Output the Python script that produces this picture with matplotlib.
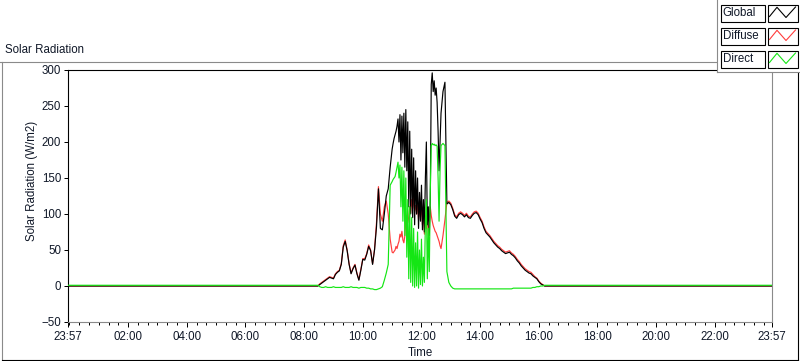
import numpy as np
import matplotlib
matplotlib.use("Agg")
import matplotlib.pyplot as plt
from matplotlib.patches import Rectangle
from matplotlib.lines import Line2D

plt.rcParams['font.family'] = ['Liberation Sans', 'DejaVu Sans']

# ---------------- data ----------------
# time axis in minutes after midnight (chart runs 23:57 -> 23:57)
axis_start_min = -3
axis_end_min = 1437
# daytime record: 4-min samples, 2-min samples in the cloudy midday stretch
times_morning = np.arange(508, 657, 4)     # 08:28 - 10:56
times_midday = np.arange(660, 761, 2)      # 11:00 - 12:40
times_afternoon = np.arange(764, 1001, 4)  # 12:44 - 16:40

night_global = 0
night_diffuse = 0
night_direct = 1

global_morning = [
    0, 2, 4, 6, 8, 10, 12, 11, 10, 16,
    19, 21, 30, 54, 62, 49, 30, 17, 24, 29,
    17, 8, 22, 37, 36, 44, 55, 49, 30, 50,
    82, 135, 80, 78, 100, 125, 135, 165,
]
global_midday = [
    190, 198, 205, 210, 215, 222, 232, 200, 238, 175,
    236, 185, 240, 165, 245, 160, 228, 110, 215, 100,
    190, 95, 178, 85, 160, 100, 150, 80, 130, 90,
    140, 78, 120, 75, 150, 200, 85, 110, 70, 120,
    280, 296, 270, 285, 265, 275, 255, 215, 160, 200,
    240,
]
global_afternoon = [
    270, 283, 114, 116, 113, 106,
    97, 94, 99, 101, 99, 96, 99, 95, 94, 98,
    101, 102, 99, 93, 88, 80, 74, 71, 68, 64,
    60, 57, 54, 52, 49, 47, 45, 46, 47, 44,
    42, 39, 35, 32, 28, 25, 22, 20, 18, 17,
    14, 12, 10, 6, 3, 1.5, 0, 0, 0, 0,
    0, 0, 0, 0,
]

diffuse_morning = [
    0, 3, 5, 7, 9, 11, 13, 12, 11, 17,
    20, 22, 31, 56, 64, 50, 31, 18, 25, 30,
    18, 9, 23, 38, 38, 45, 57, 50, 31, 51,
    88, 138, 100, 90, 110, 118, 100, 65,
]
diffuse_midday = [
    47, 46, 48, 50, 55, 52, 58, 62, 72, 68,
    76, 64, 60, 70, 92, 98, 88, 96, 110, 102,
    120, 108, 125, 105, 112, 100, 118, 92, 112, 96,
    115, 85, 100, 72, 95, 80, 102, 70, 85, 110,
    98, 90, 84, 80, 76, 74, 70, 66, 62, 56,
    52,
]
diffuse_afternoon = [
    70, 92, 116, 118, 115, 108,
    99, 96, 101, 103, 101, 98, 101, 97, 96, 100,
    103, 104, 101, 95, 90, 82, 76, 73, 70, 66,
    62, 59, 56, 54, 51, 49, 47, 48, 49, 46,
    44, 41, 37, 34, 30, 27, 24, 22, 20, 19,
    16, 13, 11, 7, 4, 2, 0, 0, 0, 0,
    0, 0, 0, 0,
]

direct_morning = [
    1, -1, -2, -2, -1, -2, -2, -2, -1, -2,
    -2, -2, -2, -1, -2, -2, -2, -1, -2, -2,
    -2, -3, -2, -2, -2, -3, -3, -4, -4, -5,
    -5, -4, -3, -1, 8, 18, 30, 140,
]
direct_midday = [
    145, 148, 150, 152, 158, 165, 172, 150, 168, 110,
    165, 90, 160, 70, 150, 40, 120, 10, 110, 5,
    95, 0, 80, -2, 60, 0, 75, -3, 50, 2,
    65, 0, 40, 5, 90, 120, 10, 80, 20, 130,
    195, 198, 196, 197, 195, 196, 194, 150, 90, 160,
    195,
]
direct_afternoon = [
    198, 195, 20, 5, 0, -3,
    -4, -4, -4, -4, -4, -4, -4, -4, -4, -4,
    -4, -4, -4, -4, -4, -4, -4, -4, -4, -4,
    -4, -4, -4, -4, -4, -4, -4, -4, -4, -4,
    -3, -3, -3, -3, -3, -3, -3, -3, -3, -3,
    -2, -2, -1, -1, 0, 0, 1, 1, 1, 1,
    1, 1, 1, 1,
]

series_names = ["Global", "Diffuse", "Direct"]
series_colors = ["#000000", "#ff3c3c", "#14e614"]

major_tick_mins = [-3, 120, 240, 360, 480, 600, 720, 840, 960, 1080, 1200, 1320, 1437]
major_tick_labels = ["23:57", "02:00", "04:00", "06:00", "08:00", "10:00", "12:00",
                     "14:00", "16:00", "18:00", "20:00", "22:00", "23:57"]
minor_tick_mins = np.arange(0, 1437, 20)
y_ticks = [-50, 0, 50, 100, 150, 200, 250, 300]

# ---------------- figure ----------------
W, H = 800, 361
fig = plt.figure(figsize=(8, 3.61), dpi=100)
fig.patch.set_facecolor('white')


def fx(px):
    return px / W


def fy(py):
    return 1 - py / H


L, R, T, B = 68, 772, 70, 322
ax = fig.add_axes([fx(L), fy(B), (R - L) / W, (B - T) / H])
ax.set_facecolor('white')

t_all = np.concatenate([[axis_start_min], times_morning, times_midday,
                        times_afternoon, [axis_end_min]])
g_all = np.concatenate([[night_global], global_morning, global_midday,
                        global_afternoon, [night_global]])
d_all = np.concatenate([[night_diffuse], diffuse_morning, diffuse_midday,
                        diffuse_afternoon, [night_diffuse]])
r_all = np.concatenate([[night_direct], direct_morning, direct_midday,
                        direct_afternoon, [night_direct]])

lw = 0.85
ax.plot(t_all, d_all, color=series_colors[1], lw=lw, zorder=2)
ax.plot(t_all, g_all, color=series_colors[0], lw=lw, zorder=3)
ax.plot(t_all, r_all, color=series_colors[2], lw=lw, zorder=4)

ax.set_xlim(axis_start_min, axis_end_min)
ax.set_ylim(-50, 300)
ax.set_xticks(major_tick_mins)
ax.set_xticklabels(major_tick_labels)
ax.set_xticks(minor_tick_mins, minor=True)
ax.set_yticks(y_ticks)

tcol = '#101828'
ax.tick_params(axis='x', which='major', length=3.6, width=0.72, pad=3,
               labelsize=8.3, colors='black', labelcolor=tcol, direction='out')
ax.tick_params(axis='x', which='minor', length=2.2, width=0.72, colors='black',
               direction='out')
ax.tick_params(axis='y', which='major', length=2.9, width=0.72, pad=2,
               labelsize=8.3, colors='black', labelcolor=tcol, direction='out')
ax.tick_params(top=False, right=False)

for s, c in [('left', '#000000'), ('top', '#000000'),
             ('bottom', '#8a8a8a'), ('right', '#8a8a8a')]:
    ax.spines[s].set_color(c)
    ax.spines[s].set_linewidth(0.8)

# ---------------- overlay (frame, titles, legend) ----------------
ov = fig.add_axes([0, 0, 1, 1], zorder=10)
ov.set_xlim(0, W)
ov.set_ylim(H, 0)
ov.axis('off')
ov.patch.set_alpha(0)

grey = '#8a8a8a'
ov.add_line(Line2D([0, 716.5], [61.5, 61.5], color=grey, lw=0.8))
ov.add_line(Line2D([1.5, 1.5], [61.5, 359.5], color=grey, lw=0.8))
ov.add_line(Line2D([1.5, 797.5], [359.5, 359.5], color='black', lw=0.8))
ov.add_line(Line2D([797.5, 797.5], [61.5, 359.5], color='black', lw=0.8))

ov.text(5, 50, "Solar Radiation", fontsize=8.3, color=tcol, ha='left', va='center')
ov.text(420, 353.5, "Time", fontsize=8.3, color=tcol, ha='center', va='center')
ov.text(32, 181, "Solar Radiation (W/m2)", fontsize=8.3, color=tcol,
        ha='center', va='center', rotation=90)

# legend panel
ov.add_patch(Rectangle((716.5, -1), 90, 72.5, facecolor='white', edgecolor='none', zorder=5))
ov.add_line(Line2D([716.5, 716.5], [0, 71.5], color=grey, lw=0.8, zorder=6))
ov.add_line(Line2D([716.5, 800], [71.5, 71.5], color=grey, lw=0.8, zorder=6))

for i, (name, col) in enumerate(zip(series_names, series_colors)):
    y0 = 4.5 + 23 * i
    ov.add_patch(Rectangle((720.5, y0), 44, 17, facecolor='white', edgecolor='black',
                           lw=0.8, zorder=7))
    ov.add_patch(Rectangle((767.5, y0), 30, 17, facecolor='white', edgecolor='black',
                           lw=0.8, zorder=7))
    ov.text(722.5, y0 + 8.8, name, fontsize=8.3, color=tcol, ha='left', va='center',
            zorder=8)
    ov.add_line(Line2D([769.5, 777, 786, 795.5], [y0 + 12, y0 + 2.8, y0 + 13, y0 + 2.5],
                       color=col, lw=0.8, zorder=8))

fig.savefig("out.png", dpi=100, facecolor='white')
